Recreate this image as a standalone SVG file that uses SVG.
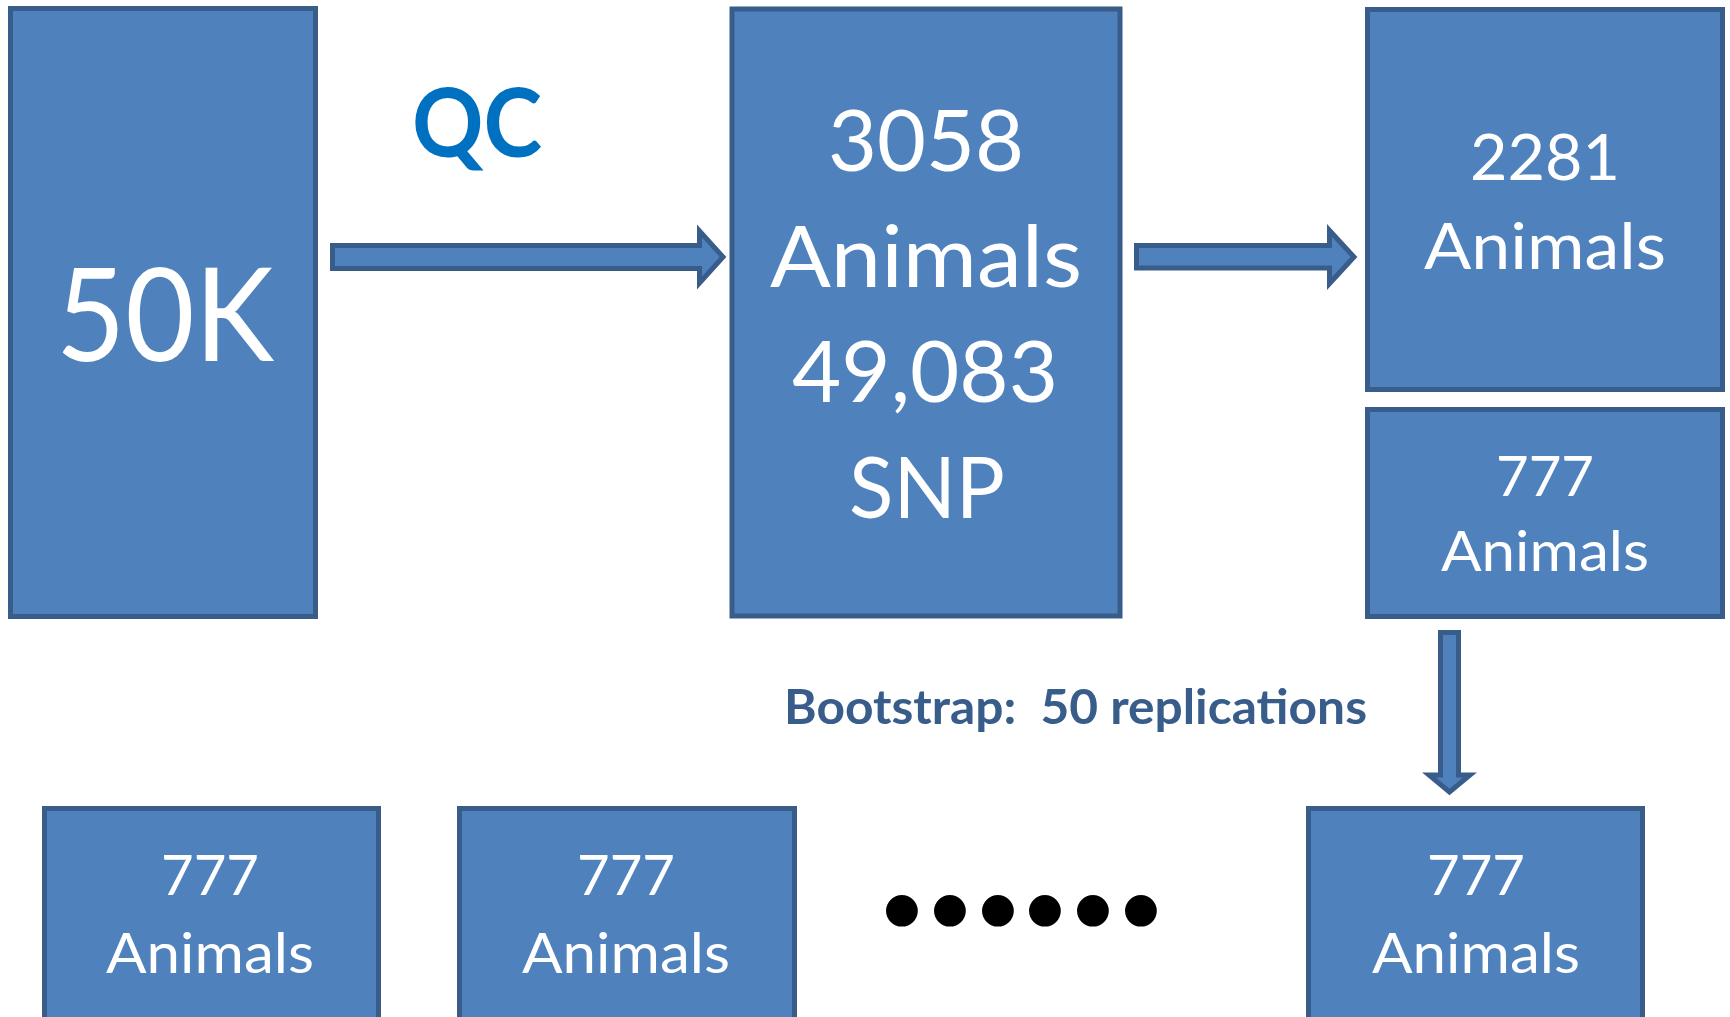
<svg xmlns="http://www.w3.org/2000/svg" width="1730" height="1017" viewBox="0 0 1730 1017">
<style>
.box{fill:#4f81bd;stroke:#385d8a;stroke-width:5}
.arr{fill:#4f81bd;stroke:#385d8a;stroke-width:5;stroke-linejoin:miter}
.t{font-family:Lato,"Open Sans",sans-serif;fill:#ffffff;text-anchor:middle}
</style>
<rect width="1730" height="1017" fill="#ffffff"/>
<g id="n50k">
<rect class="box" x="10.5" y="8.5" width="305" height="608"/>
<text class="t" x="165" y="361" font-size="130" textLength="218" lengthAdjust="spacingAndGlyphs">50K</text>
</g>
<g id="qc">
<text x="477" y="157" font-family="Lato,'Open Sans',sans-serif" font-weight="bold" font-size="96" fill="#0070c0" text-anchor="middle" textLength="130" lengthAdjust="spacingAndGlyphs">QC</text>
</g>
<g id="n3058">
<rect class="box" x="732" y="9" width="388" height="607"/>
<text class="t" x="926" y="171" font-size="85" textLength="196" lengthAdjust="spacingAndGlyphs">3058</text>
<text class="t" x="926" y="287" font-size="85" textLength="312" lengthAdjust="spacingAndGlyphs">Animals</text>
<text class="t" x="925" y="402" font-size="85" textLength="266" lengthAdjust="spacingAndGlyphs">49,083</text>
<text class="t" x="927" y="518" font-size="85" textLength="156" lengthAdjust="spacingAndGlyphs">SNP</text>
</g>
<g id="n2281">
<rect class="box" x="1367.5" y="9.5" width="355" height="380"/>
<text class="t" x="1545" y="180" font-size="64" textLength="150" lengthAdjust="spacingAndGlyphs">2281</text>
<text class="t" x="1545" y="269" font-size="64" textLength="242" lengthAdjust="spacingAndGlyphs">Animals</text>
</g>
<g id="n777a">
<rect class="box" x="1367.5" y="409.5" width="355" height="207"/>
<text class="t" x="1545" y="496" font-size="57" textLength="98" lengthAdjust="spacingAndGlyphs">777</text>
<text class="t" x="1545" y="571" font-size="57" textLength="208" lengthAdjust="spacingAndGlyphs">Animals</text>
</g>
<g id="boot">
<text x="784" y="724" font-family="Lato,'Open Sans',sans-serif" font-weight="bold" font-size="47" fill="#385d8a" style="white-space:pre" textLength="583" lengthAdjust="spacingAndGlyphs">Bootstrap:  50 replications</text>
</g>
<g id="b1">
<rect class="box" x="44.5" y="808.5" width="334" height="220"/>
<text class="t" x="210" y="895" font-size="57" textLength="98" lengthAdjust="spacingAndGlyphs">777</text>
<text class="t" x="210" y="973" font-size="57" textLength="208" lengthAdjust="spacingAndGlyphs">Animals</text>
</g>
<g id="b2">
<rect class="box" x="459.5" y="808.5" width="335" height="220"/>
<text class="t" x="626" y="895" font-size="57" textLength="98" lengthAdjust="spacingAndGlyphs">777</text>
<text class="t" x="626" y="973" font-size="57" textLength="208" lengthAdjust="spacingAndGlyphs">Animals</text>
</g>
<g id="dots">
<text x="902 950 998 1045 1093 1141" y="932" font-family="Lato,'Open Sans',sans-serif" font-weight="bold" font-size="73" fill="#000000" text-anchor="middle">••••••</text>
</g>
<g id="b3">
<rect class="box" x="1308.5" y="808.5" width="334" height="220"/>
<text class="t" x="1476" y="895" font-size="57" textLength="98" lengthAdjust="spacingAndGlyphs">777</text>
<text class="t" x="1476" y="973" font-size="57" textLength="208" lengthAdjust="spacingAndGlyphs">Animals</text>
</g>
<g id="connectors">
<path class="arr" d="M332.5,245.5 H699.5 V231 L723,257 L699.5,283 V268.5 H332.5 Z"/>
<path class="arr" d="M1136.5,245.5 H1329.5 V230.5 L1354,257 L1329.5,283.5 V268 H1136.5 Z"/>
<path class="arr" d="M1440.5,632.5 H1458.5 V775 H1470 L1449.5,792 L1429,775 H1440.5 Z"/>
</g>
</svg>
